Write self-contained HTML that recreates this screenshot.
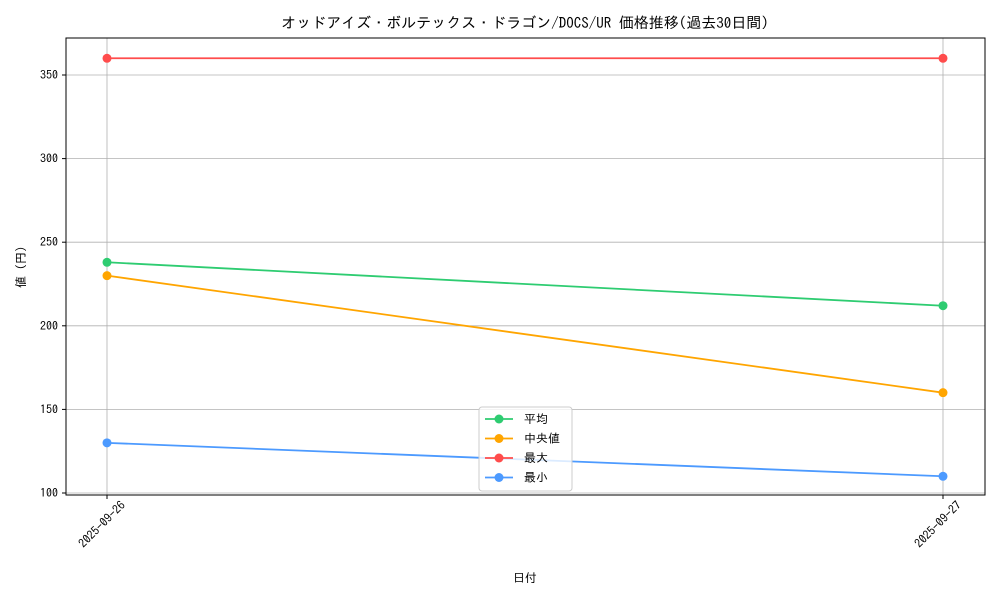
<!DOCTYPE html>
<html><head><meta charset="utf-8"><style>
body{margin:0;background:#fff}
svg text{font-family:"IPAGothic","Noto Sans CJK JP",sans-serif;fill:#000}
</style></head><body>
<svg id="chart" width="1000" height="600" xmlns="http://www.w3.org/2000/svg">
<rect width="1000" height="600" fill="#fff"/>
<text x="525" y="28" text-anchor="middle" font-size="15">オッドアイズ・ボルテックス・ドラゴン/DOCS/UR 価格推移(過去30日間)</text>
<g id="grid"></g>
<g id="series"></g>
<rect x="66" y="38" width="919" height="457" fill="none" stroke="#000" stroke-width="1"/>
<g id="axes"></g>
<text x="525" y="582" text-anchor="middle" font-size="12">日付</text>
<text transform="translate(25,267) rotate(-90)" text-anchor="middle" font-size="12">値 (円)</text>
<g id="legend"></g>
</svg>
<script>
const categories=["2025-09-26","2025-09-27"];
const seriesNames=["平均","中央値","最大","最小"];
const avgValues=[238,212];
const medianValues=[230,160];
const maxValues=[360,360];
const minValues=[130,110];
const yTicks=[100,150,200,250,300,350];
const colors=["#2ecc71","#ffa500","#ff4c4c","#4c9aff"];
const NS="http://www.w3.org/2000/svg";
function xs(i){return 107+i*(943-107)/(categories.length-1);}
function ys(v){return 493-(v-100)*(493-75)/250;}
function mk(t,a,p){const e=document.createElementNS(NS,t);for(const k in a)e.setAttribute(k,a[k]);p.appendChild(e);return e;}
const grid=document.getElementById('grid'),axes=document.getElementById('axes'),ser=document.getElementById('series'),leg=document.getElementById('legend');
yTicks.forEach(v=>{const y=ys(v);
const g=mk('line',{x1:66,x2:985,y1:y,y2:y,stroke:'#b0b0b0','stroke-width':0.8},grid);

mk('line',{x1:62,x2:66,y1:y,y2:y,stroke:'#000'},axes);
const t=mk('text',{x:58,y:y+4,'text-anchor':'end','font-size':12},axes);t.textContent=v;
});
categories.forEach((c,i)=>{const x=xs(i);
const g=mk('line',{x1:x,x2:x,y1:38,y2:495,stroke:'#b0b0b0','stroke-width':0.8},grid);

mk('line',{x1:x,x2:x,y1:495,y2:499,stroke:'#000'},axes);
const t=mk('text',{transform:`translate(${x+19},${506}) rotate(-45)`,'text-anchor':'end','font-size':12},axes);t.textContent=c;
});
[avgValues,medianValues,maxValues,minValues].forEach((vals,s)=>{
const pts=vals.map((v,i)=>xs(i)+','+ys(v)).join(' ');
const l=mk('polyline',{points:pts,fill:'none',stroke:colors[s],'stroke-width':1.8},ser);

vals.forEach((v,i)=>{const c=mk('circle',{cx:xs(i),cy:ys(v),r:4.5,fill:colors[s]},ser);
});});
const box=mk('rect',{x:479,y:407,width:93,height:84,rx:3,fill:'#fff','fill-opacity':0.8,stroke:'#ccc'},leg);

seriesNames.forEach((n,s)=>{const y=419+s*19.5;
const g=mk('g',{},leg);
mk('line',{x1:485,x2:513,y1:y,y2:y,stroke:colors[s],'stroke-width':1.8},g);
mk('circle',{cx:499,cy:y,r:4.5,fill:colors[s]},g);
const t=mk('text',{x:524,y:y+4,'font-size':12},g);t.textContent=n;});
</script>
</body></html>
